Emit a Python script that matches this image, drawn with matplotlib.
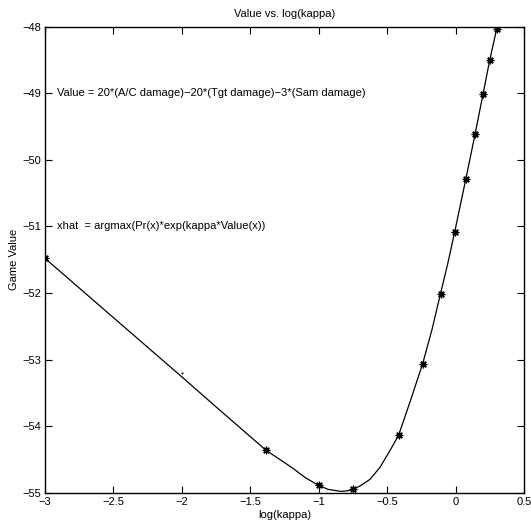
import numpy as np
from matplotlib import pyplot as plt

plt.rcParams['font.family'] = ['Liberation Sans', 'DejaVu Sans']

# -------------------- data ----------------------

# marked points (log(kappa), game value)
mark_x = [-3.0, -1.386, -1.0, -0.75, -0.415, -0.24, -0.11, -0.007, 0.075, 0.143, 0.2, 0.25, 0.3]
mark_y = [-51.48, -54.36, -54.89, -54.95, -54.13, -53.06, -52.01, -51.09, -50.29, -49.61, -49.02, -48.5, -48.04]

# curve
curve_x = [-3.0, -2.5, -2.0, -1.7, -1.386, -1.19, -1.1, -1.0, -0.93, -0.833, -0.79, -0.75,
           -0.7, -0.626, -0.553, -0.48, -0.415, -0.327, -0.24, -0.171, -0.11, -0.056, -0.007,
           0.075, 0.143, 0.2, 0.25, 0.3]
curve_y = [-51.48, -52.37, -53.26, -53.80, -54.36, -54.63, -54.77, -54.89, -54.95, -54.98, -54.97, -54.95,
           -54.90, -54.80, -54.62, -54.37, -54.13, -53.60, -53.06, -52.54, -52.01, -51.55, -51.09,
           -50.29, -49.61, -49.02, -48.5, -48.04]

# stray dot
dot_x = [-2.0]
dot_y = [-53.2]

xticks = [-3, -2.5, -2, -1.5, -1, -0.5, 0, 0.5]
xtick_labels = ['\u22123', '\u22122.5', '\u22122', '\u22121.5', '\u22121', '\u22120.5', '0', '0.5']
yticks = [-55, -54, -53, -52, -51, -50, -49, -48]
ytick_labels = ['\u221255', '\u221254', '\u221253', '\u221252', '\u221251', '\u221250', '\u221249', '\u221248']

# -------------------- plot ----------------------

fig = plt.figure(figsize=(5.31, 5.31), dpi=100)
ax = fig.add_axes([0.0847, 0.0720, 0.9021, 0.8780])

ax.plot(curve_x, curve_y, color='black', linewidth=0.9)
ax.plot(mark_x, mark_y, linestyle='none', marker=(8, 2, 0), markersize=5.5,
        markeredgecolor='black', markeredgewidth=0.9)
ax.plot(dot_x, dot_y, linestyle='none', marker='.', markersize=1, color='black')

ax.text(-2.915, -49.0, 'Value = 20*(A/C damage)\u221220*(Tgt damage)\u22123*(Sam damage)',
        fontsize=8, va='center', ha='left')
ax.text(-2.915, -51.0, 'xhat  = argmax(Pr(x)*exp(kappa*Value(x))',
        fontsize=8, va='center', ha='left')

ax.set_xlim(-3, 0.5)
ax.set_ylim(-55, -48)
ax.set_xticks(xticks)
ax.set_xticklabels(xtick_labels)
ax.set_yticks(yticks)
ax.set_yticklabels(ytick_labels)
ax.tick_params(direction='in', length=5, width=0.8, labelsize=8, top=True, right=True, pad=3)
for s in ax.spines.values():
    s.set_linewidth(1.0)

ax.set_title('Value vs. log(kappa)', fontsize=8, pad=7)
ax.set_xlabel('log(kappa)', fontsize=8, labelpad=2)
ax.set_ylabel('Game Value', fontsize=8, labelpad=2)

fig.savefig('out.png', dpi=100)
